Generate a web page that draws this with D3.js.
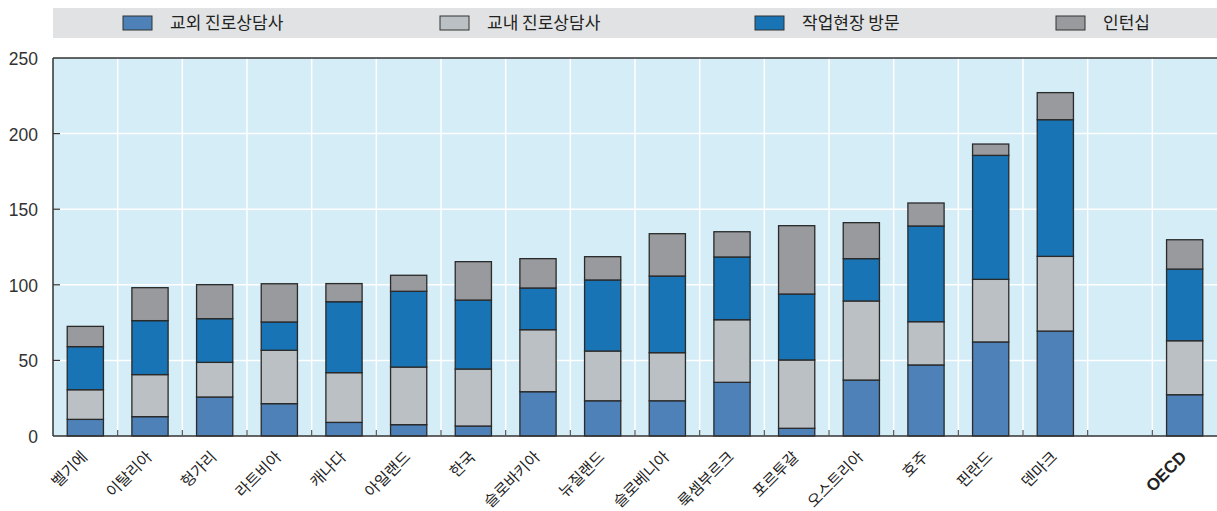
<!DOCTYPE html>
<html>
<head>
<meta charset="utf-8">
<script src="https://cdn.jsdelivr.net/npm/d3@7/dist/d3.min.js"></script>
<style>
  body { margin: 0; background: #fff; }
  svg { display: block; }
  .num { font-family: "Liberation Sans", Arial, sans-serif; }
  .kr { font-family: "Noto Sans CJK KR", sans-serif; }
</style>
</head>
<body>
<svg id="chart" width="1217" height="511"></svg>
<script>
const countries = ['벨기에', '이탈리아', '헝가리', '라트비아', '캐나다', '아일랜드', '한국', '슬로바키아', '뉴질랜드',
  '슬로베니아', '룩셈부르크', '포르투갈', '오스트리아', '호주', '핀란드', '덴마크', '', 'OECD'];

const seriesNames = ['교외 진로상담사', '교내 진로상담사', '작업현장 방문', '인턴십'];
const seriesColors = ['#4d81b8', '#bbc0c4', '#1874b4', '#989a9e'];

// values per country, '' slot is the gap before OECD
const outsideCounsellor = [11.0, 12.8, 25.8, 21.4, 9.0, 7.5, 6.6, 29.3, 23.3, 23.3, 35.5, 5.1, 37.0, 47.0, 62.2, 69.4, 0, 27.3];
const schoolCounsellor = [19.6, 27.8, 22.9, 35.3, 32.9, 38.1, 37.7, 41.0, 32.9, 31.8, 41.4, 45.2, 52.3, 28.6, 41.4, 49.4, 0, 35.7];
const workplaceVisit = [28.5, 35.7, 28.9, 18.7, 46.9, 50.1, 45.6, 27.6, 47.0, 50.7, 41.5, 43.6, 28.0, 63.3, 82.0, 90.4, 0, 47.4];
const internship = [13.4, 21.8, 22.5, 25.3, 12.0, 10.6, 25.4, 19.4, 15.4, 28.0, 16.7, 45.2, 23.8, 15.2, 7.5, 17.9, 0, 19.4];

const yTicks = [0, 50, 100, 150, 200, 250];

const margin = { left: 53, right: 0, top: 58, bottom: 75 };
const W = 1217, H = 511;
const svg = d3.select('#chart');

const keys = countries.map((c, i) => c || 'gap' + i);
const x = d3.scaleBand().domain(keys).range([margin.left, W - margin.right]).padding(0);
const y = d3.scaleLinear().domain([0, 250]).range([H - margin.bottom, margin.top]);

const barW = x.bandwidth() * 0.56;

// legend band
svg.append('rect')
  .attr('x', 53).attr('y', 8).attr('width', W - 53).attr('height', 30)
  .attr('fill', '#e1e2e3');

const legendX = [123, 440, 755, 1056];
seriesNames.forEach((name, i) => {
  svg.append('rect')
    .attr('x', legendX[i]).attr('y', 16).attr('width', 29).attr('height', 14)
    .attr('fill', seriesColors[i]).attr('stroke', '#333').attr('stroke-width', 1);
  svg.append('text')
    .attr('class', 'kr')
    .attr('x', legendX[i] + 47).attr('y', 29)
    .attr('font-size', 17).attr('fill', '#222')
    .text(name);
});

// plot background
svg.append('rect')
  .attr('x', margin.left).attr('y', margin.top)
  .attr('width', W - margin.left - margin.right).attr('height', y(0) - margin.top)
  .attr('fill', '#d5edf6');

// grid
const grid = svg.append('g');
grid.selectAll('.hg').data(yTicks.filter(t => t > 0 && t < 250))
  .enter().append('line')
  .attr('x1', margin.left).attr('x2', W)
  .attr('y1', d => y(d)).attr('y2', d => y(d))
  .attr('stroke', '#fff').attr('stroke-width', 1.5);
grid.selectAll('.vg').data(keys.slice(1))
  .enter().append('line')
  .attr('x1', d => x(d)).attr('x2', d => x(d))
  .attr('y1', margin.top).attr('y2', y(0))
  .attr('stroke', '#fff').attr('stroke-width', 1.5);

// stacked bars
const stackData = countries.map((c, i) => ({
  key: keys[i],
  s0: outsideCounsellor[i],
  s1: schoolCounsellor[i],
  s2: workplaceVisit[i],
  s3: internship[i]
}));
const stack = d3.stack().keys(['s0', 's1', 's2', 's3'])(stackData);

svg.append('g').selectAll('g')
  .data(stack)
  .enter().append('g')
  .attr('fill', (d, i) => seriesColors[i])
  .selectAll('rect')
  .data(d => d.filter(p => p[1] - p[0] > 0))
  .enter().append('rect')
  .attr('x', d => x(d.data.key) + (x.bandwidth() - barW) / 2)
  .attr('width', barW)
  .attr('y', d => y(d[1]))
  .attr('height', d => y(d[0]) - y(d[1]))
  .attr('stroke', '#2a2a2a').attr('stroke-width', 1.3);

// axes lines
svg.append('line')
  .attr('x1', margin.left).attr('x2', W).attr('y1', margin.top).attr('y2', margin.top)
  .attr('stroke', '#333').attr('stroke-width', 1.5);
svg.append('line')
  .attr('x1', margin.left).attr('x2', margin.left).attr('y1', margin.top).attr('y2', y(0))
  .attr('stroke', '#333').attr('stroke-width', 1.5);
svg.append('line')
  .attr('x1', margin.left).attr('x2', W).attr('y1', y(0)).attr('y2', y(0))
  .attr('stroke', '#333').attr('stroke-width', 1.5);

// y ticks + labels
svg.append('g').selectAll('line').data(yTicks.filter(t => t > 0 && t < 250))
  .enter().append('line')
  .attr('x1', margin.left).attr('x2', margin.left + 7)
  .attr('y1', d => y(d)).attr('y2', d => y(d))
  .attr('stroke', '#333').attr('stroke-width', 1.2);
svg.append('g').selectAll('text').data(yTicks)
  .enter().append('text')
  .attr('class', 'num')
  .attr('x', 38).attr('y', d => y(d) + 7)
  .attr('text-anchor', 'end')
  .attr('font-size', 17.5).attr('fill', '#333')
  .text(d => d);

// x ticks at slot boundaries
svg.append('g').selectAll('line').data(keys.slice(1))
  .enter().append('line')
  .attr('x1', d => x(d)).attr('x2', d => x(d))
  .attr('y1', y(0)).attr('y2', y(0) - 6)
  .attr('stroke', '#555').attr('stroke-width', 1.2);

// x labels
svg.append('g').selectAll('text').data(countries.map((c, i) => ({ c, k: keys[i] })).filter(d => d.c))
  .enter().append('text')
  .attr('class', d => d.c === 'OECD' ? 'num' : 'kr')
  .attr('transform', d => `translate(${x(d.k) + x.bandwidth() / 2 + 3},${y(0) + 22}) rotate(-45)`)
  .attr('text-anchor', 'end')
  .attr('font-size', d => d.c === 'OECD' ? 17 : 15.5)
  .attr('font-weight', d => d.c === 'OECD' ? 'bold' : 'normal')
  .attr('fill', '#222')
  .text(d => d.c);
</script>
</body>
</html>
